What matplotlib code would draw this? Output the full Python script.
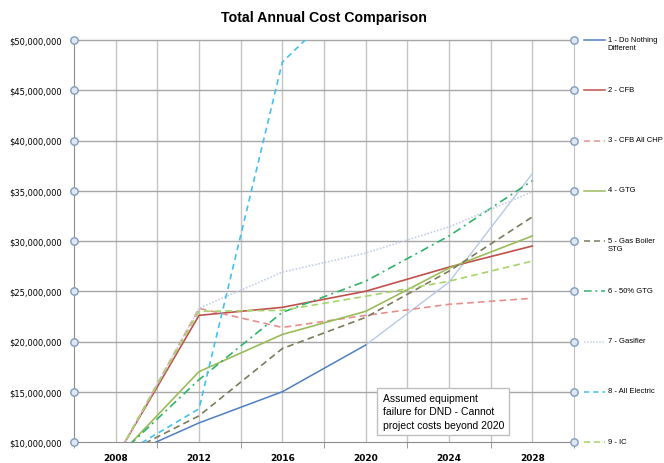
import numpy as np
import matplotlib.pyplot as plt
from matplotlib.ticker import FuncFormatter

# =========================================================
# DONNEES (coût annuel total, $)
# =========================================================

years = [2008, 2012, 2016, 2020, 2024, 2028]

do_nothing = [8.2e6, 11.9e6, 15.0e6, 19.65e6, 25.9e6, 36.7e6]
cfb = [8.4e6, 22.6e6, 23.4e6, 25.0e6, 27.4e6, 29.5e6]
cfb_all_chp = [8.3e6, 23.3e6, 21.4e6, 22.6e6, 23.7e6, 24.3e6]
gtg = [8.3e6, 17.0e6, 20.7e6, 23.0e6, 27.3e6, 30.5e6]
gas_boiler_stg = [8.4e6, 12.6e6, 19.3e6, 22.4e6, 27.0e6, 32.4e6]
gtg_50 = [8.4e6, 16.2e6, 22.9e6, 26.0e6, 30.5e6, 36.0e6]
gasifier = [8.3e6, 23.3e6, 26.9e6, 28.8e6, 31.4e6, 34.9e6]
all_electric = [8.4e6, 13.3e6, 47.8e6, 55.8e6, 63.8e6, 71.8e6]
ic = [8.4e6, 23.0e6, 23.1e6, 24.5e6, 26.0e6, 28.0e6]

failure_year = 2020

series = [
    ("1 - Do Nothing\nDifferent", do_nothing, "#4f7fbf", "-"),
    ("2 - CFB", cfb, "#c0504d", "-"),
    ("3 - CFB All CHP", cfb_all_chp, "#e58f8d", (0, (4, 2.5))),
    ("4 - GTG", gtg, "#9bbb59", "-"),
    ("5 - Gas Boiler\nSTG", gas_boiler_stg, "#7c7b5c", (0, (4, 2.5))),
    ("6 - 50% GTG", gtg_50, "#2fb36a", (0, (5, 2.5, 1.2, 2.5))),
    ("7 - Gasifier", gasifier, "#c5d0e8", (0, (1, 1))),
    ("8 - All Electric", all_electric, "#45c0ee", (0, (3.5, 2.5))),
    ("9 - IC", ic, "#a6d46a", (0, (4, 2.5))),
]

yticks = np.arange(10e6, 50e6 + 1, 5e6)

NARROW = ["Liberation Sans Narrow", "Liberation Sans", "DejaVu Sans"]

# =========================================================
# FIGURE
# =========================================================

fig = plt.figure(figsize=(6.64, 4.64), dpi=100)
ax = fig.add_axes([74 / 664, 21 / 464, 500 / 664, 402 / 464])

ax.set_xlim(2006, 2030)
ax.set_ylim(10e6, 50e6)

ax.xaxis.set_major_locator(plt.FixedLocator(range(2008, 2029, 4)))
ax.xaxis.set_minor_locator(plt.FixedLocator(range(2006, 2031, 4)))
ax.set_yticks(yticks)

# grilles
for xv in range(2008, 2030, 2):
    ax.axvline(xv, color="#c4c4c4", lw=1.0, zorder=0)
for yv in yticks[1:]:
    ax.axhline(yv, color="#a6a6a6", lw=1.0, zorder=0, clip_on=False)

x = np.array(years)
split = years.index(failure_year)

for label, values, color, ls in series:
    v = np.array(values)
    if values is do_nothing:
        # au-delà de la panne supposée : trait pâle
        ax.plot(x[:split + 1], v[:split + 1], color=color, lw=1.1,
                ls=ls, zorder=3)
        ax.plot(x[split:], v[split:], color="#b7c9e6", lw=1.0,
                ls=ls, zorder=2)
    else:
        ax.plot(x, v, color=color, lw=1.2, ls=ls, zorder=2)

ax.spines["top"].set_visible(False)
ax.spines["left"].set_color("#8c8c8c")
ax.spines["right"].set_color("#bfbfbf")
ax.spines["bottom"].set_color("#8c8c8c")

ax.yaxis.set_major_formatter(
    FuncFormatter(lambda v, p: f"${v:,.0f}")
)
ax.tick_params(axis="y", length=0, pad=9, labelsize=6)
ax.tick_params(axis="x", which="major", length=0, pad=8, labelsize=6.5)
ax.tick_params(axis="x", which="minor", length=4, color="#8c8c8c")
for t in ax.get_xticklabels():
    t.set_fontweight("bold")

# marqueurs ronds sur les axes
for xe in [2006, 2030]:
    ax.scatter([xe] * len(yticks), yticks, s=28, facecolor="#dfe8f2",
               edgecolor="#7f9cbc", linewidth=1.0, zorder=5, clip_on=False)

ax.set_title("Total Annual Cost Comparison", fontsize=10.2,
             fontweight="bold", pad=14, family=NARROW)

# légende (une entrée par graduation de l'axe droit)
n = len(series)
for i, (label, values, color, ls) in enumerate(series):
    yf = 1 - i / (n - 1)
    ax.plot([1.02, 1.062], [yf, yf], transform=ax.transAxes, color=color,
            lw=1.1, ls=ls, clip_on=False)
    ax.text(1.067, yf + 0.011, label, transform=ax.transAxes,
            fontsize=5.5, va="top", ha="left", linespacing=1.3,
            family=NARROW)

# annotation
ax.text(
    0.617, 0.031,
    "Assumed equipment\nfailure for DND - Cannot\nproject costs beyond 2020",
    transform=ax.transAxes, fontsize=7.5, va="bottom", ha="left",
    linespacing=1.4, zorder=6, family=NARROW,
    bbox=dict(boxstyle="square,pad=0.5", facecolor="white",
              edgecolor="#bfbfbf", linewidth=1.0)
)

plt.savefig("out.png", dpi=100)
